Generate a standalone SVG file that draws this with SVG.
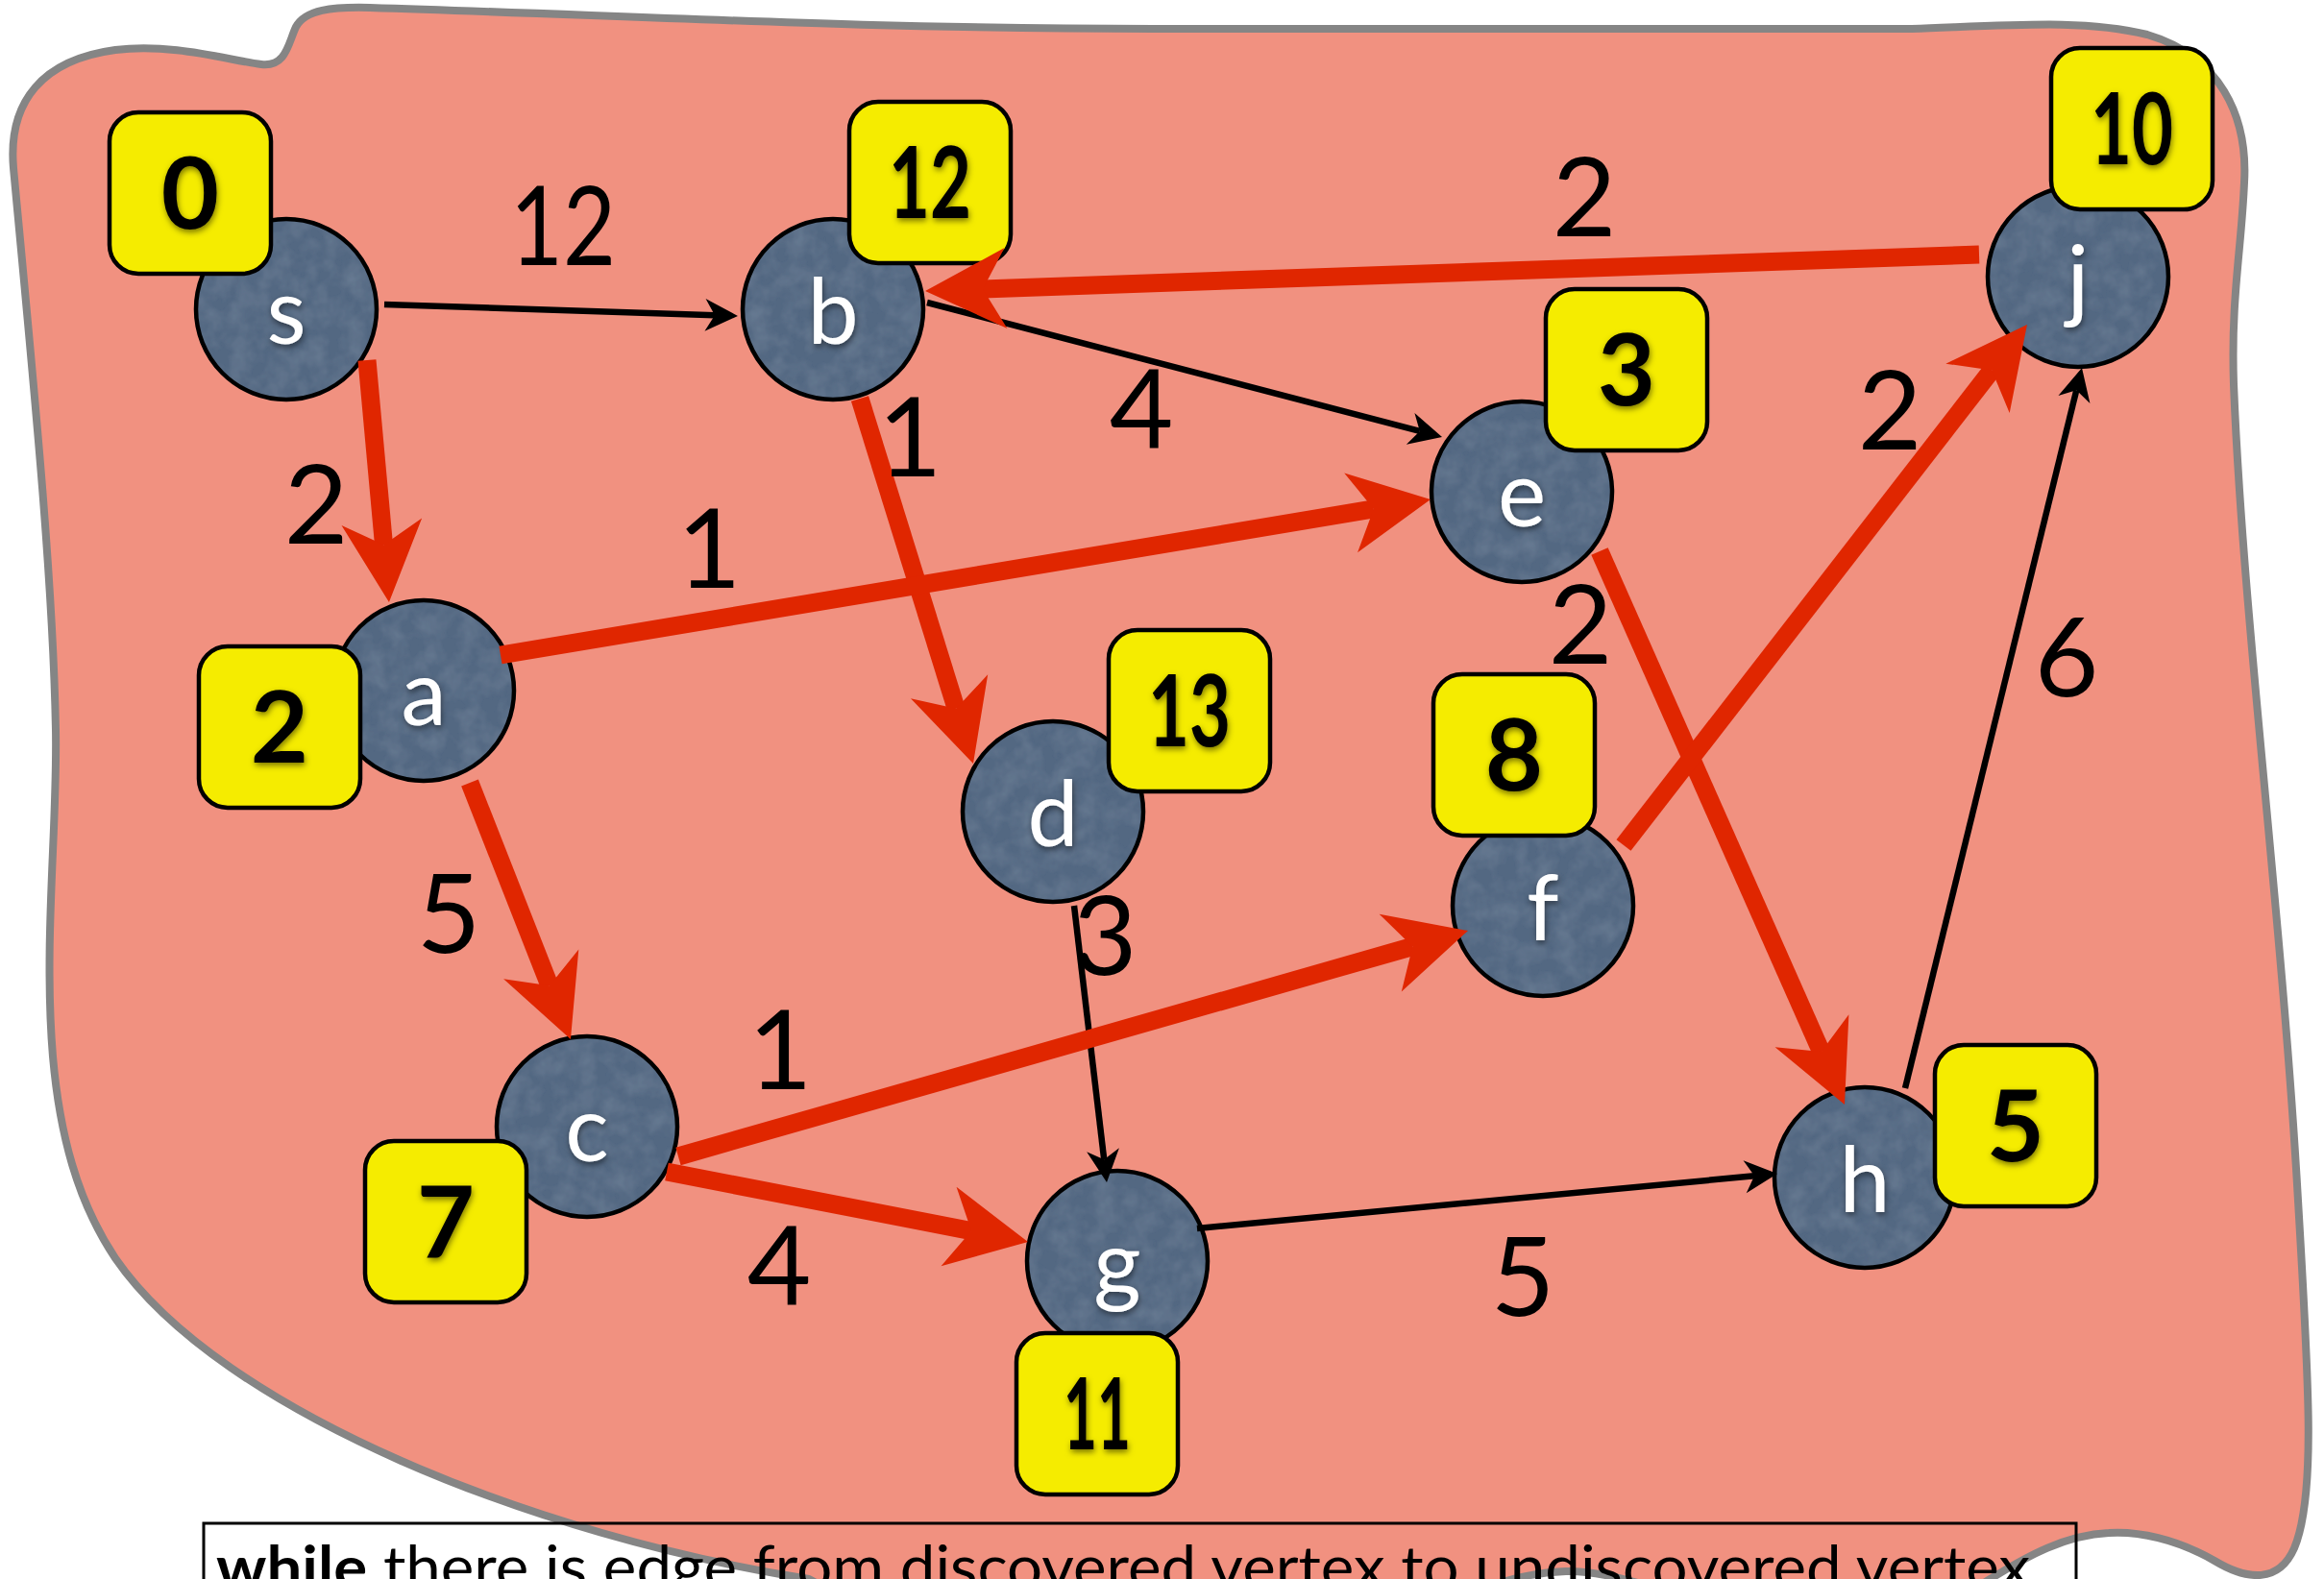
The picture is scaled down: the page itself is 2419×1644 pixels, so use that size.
<svg xmlns="http://www.w3.org/2000/svg" width="2419" height="1644" viewBox="0 0 2419 1644">
  <defs>
    <style>
      .blob { fill: #F19180; stroke: #858585; stroke-width: 8; stroke-linejoin: round; }
      .node .body { fill: #526782; filter: url(#grain); }
      .node .rim { fill: none; stroke: #000; stroke-width: 4.5; }
      .node .lbl { font-family: Lato, "Open Sans", "DejaVu Sans", sans-serif; font-size: 95px; fill: #fff; text-anchor: middle; filter: url(#soft); }
      .tag rect { fill: #F5EC00; stroke: #000; stroke-width: 4.5; }
      .tag text { font-family: Lato, "Open Sans", "DejaVu Sans", sans-serif; font-weight: 700; font-size: 104px; fill: #000; text-anchor: middle; filter: url(#soft); }
      .tree line { stroke: #E02600; stroke-width: 19; stroke-linecap: butt; marker-end: url(#head-red); }
      .plain line { stroke: #000; stroke-width: 6.5; stroke-linecap: butt; marker-end: url(#head-black); }
      .w { font-family: Lato, "Open Sans", "DejaVu Sans", sans-serif; font-size: 115px; fill: #000; text-anchor: middle; }
      .caption rect { fill: none; stroke: #000; stroke-width: 3; }
      .caption text { font-family: Lato, "Open Sans", "DejaVu Sans", sans-serif; font-size: 62px; fill: #000; }
    </style>
    <filter id="soft" x="-30%" y="-30%" width="160%" height="160%">
      <feDropShadow dx="1" dy="3" stdDeviation="3" flood-color="#000" flood-opacity="0.5"/>
    </filter>
    <!-- faint mottled texture for the vertex discs -->
    <filter id="grain">
      <feTurbulence type="fractalNoise" baseFrequency="0.05" numOctaves="3" seed="7" result="noise"/>
      <feColorMatrix in="noise" type="matrix" values="0 0 0 0 0.40  0 0 0 0 0.50  0 0 0 0 0.62  0 0 0 0.25 -0.08" result="tint"/>
      <feComposite in="tint" in2="SourceGraphic" operator="in" result="spots"/>
      <feMerge><feMergeNode in="SourceGraphic"/><feMergeNode in="spots"/></feMerge>
    </filter>
    <!-- notched arrowheads; the line ends at the notch (0,0) -->
    <marker id="head-red" markerUnits="userSpaceOnUse" markerWidth="200" markerHeight="200" refX="0" refY="0" orient="auto" overflow="visible">
      <path d="M60,0 L-24,-42 L0,0 L-24,42 Z" fill="#E02600"/>
    </marker>
    <marker id="head-black" markerUnits="userSpaceOnUse" markerWidth="100" markerHeight="100" refX="0" refY="0" orient="auto" overflow="visible">
      <path d="M24,0 L-10,-17 L0,0 L-10,17 Z" fill="#000"/>
    </marker>
  </defs>

  <rect width="2419" height="1644" fill="#fff"/>

  <!-- discovered region -->
  <path class="blob" d="M14,175 C8,105 45,62 120,52 C180,45 235,62 272,67 C298,70 300,45 308,28 C318,10 345,7 385,8 C650,16 900,30 1200,30 L1990,30 C2100,26 2170,20 2235,36 C2310,58 2340,120 2336,190 C2333,260 2322,310 2325,400 C2335,650 2375,950 2392,1250 C2404,1450 2410,1560 2388,1612 C2372,1648 2340,1646 2305,1625 C2265,1602 2225,1594 2195,1596 C2150,1598 2110,1620 2070,1645 C2030,1670 1980,1690 1900,1690 C1800,1690 1700,1634 1630,1636 C1570,1638 1530,1660 1480,1680 L1000,1700 C930,1690 880,1665 842,1644 C560,1600 230,1470 120,1310 C80,1250 62,1180 55,1100 C45,980 60,860 58,760 C55,600 35,400 14,175 Z"/>

  <!-- vertices with their discovery numbers -->
  <g id="node-s" class="node">
    <circle class="body" cx="298" cy="322" r="94"/><circle class="rim" cx="298" cy="322" r="94"/>
    <text class="lbl" x="298" y="358">s</text>
    <g class="tag"><rect x="114" y="117" width="168" height="168" rx="30"/><text x="198" y="238">0</text></g>
  </g>
  <g id="node-b" class="node">
    <circle class="body" cx="867" cy="322" r="94"/><circle class="rim" cx="867" cy="322" r="94"/>
    <text class="lbl" x="867" y="358">b</text>
    <g class="tag"><rect x="884" y="106" width="168" height="168" rx="30"/><text x="968" y="227" textLength="86" lengthAdjust="spacingAndGlyphs">12</text></g>
  </g>
  <g id="node-j" class="node">
    <circle class="body" cx="2163" cy="288" r="94"/><circle class="rim" cx="2163" cy="288" r="94"/>
    <text class="lbl" x="2163" y="324">j</text>
    <g class="tag"><rect x="2135" y="50" width="168" height="168" rx="30"/><text x="2219" y="171" textLength="86" lengthAdjust="spacingAndGlyphs">10</text></g>
  </g>
  <g id="node-e" class="node">
    <circle class="body" cx="1584" cy="512" r="94"/><circle class="rim" cx="1584" cy="512" r="94"/>
    <text class="lbl" x="1584" y="548">e</text>
    <g class="tag"><rect x="1609" y="301" width="168" height="168" rx="30"/><text x="1693" y="422">3</text></g>
  </g>
  <g id="node-a" class="node">
    <circle class="body" cx="441" cy="719" r="94"/><circle class="rim" cx="441" cy="719" r="94"/>
    <text class="lbl" x="441" y="755">a</text>
    <g class="tag"><rect x="207" y="673" width="168" height="168" rx="30"/><text x="291" y="794">2</text></g>
  </g>
  <g id="node-d" class="node">
    <circle class="body" cx="1096" cy="845" r="94"/><circle class="rim" cx="1096" cy="845" r="94"/>
    <text class="lbl" x="1096" y="881">d</text>
    <g class="tag"><rect x="1154" y="656" width="168" height="168" rx="30"/><text x="1238" y="777" textLength="86" lengthAdjust="spacingAndGlyphs">13</text></g>
  </g>
  <g id="node-f" class="node">
    <circle class="body" cx="1606" cy="943" r="94"/><circle class="rim" cx="1606" cy="943" r="94"/>
    <text class="lbl" x="1606" y="979">f</text>
    <g class="tag"><rect x="1492" y="702" width="168" height="168" rx="30"/><text x="1576" y="823">8</text></g>
  </g>
  <g id="node-c" class="node">
    <circle class="body" cx="611" cy="1173" r="94"/><circle class="rim" cx="611" cy="1173" r="94"/>
    <text class="lbl" x="611" y="1209">c</text>
    <g class="tag"><rect x="380" y="1188" width="168" height="168" rx="30"/><text x="464" y="1309">7</text></g>
  </g>
  <g id="node-g" class="node">
    <circle class="body" cx="1163" cy="1313" r="94"/><circle class="rim" cx="1163" cy="1313" r="94"/>
    <text class="lbl" x="1163" y="1349">g</text>
    <g class="tag"><rect x="1058" y="1388" width="168" height="168" rx="30"/><text x="1142" y="1509" textLength="70" lengthAdjust="spacingAndGlyphs">11</text></g>
  </g>
  <g id="node-h" class="node">
    <circle class="body" cx="1941" cy="1226" r="94"/><circle class="rim" cx="1941" cy="1226" r="94"/>
    <text class="lbl" x="1941" y="1262">h</text>
    <g class="tag"><rect x="2014" y="1088" width="168" height="168" rx="30"/><text x="2098" y="1209">5</text></g>
  </g>

  <!-- edges: black = graph edge, red = search tree edge -->
  <g id="edges">
    <g class="plain">
      <line x1="400" y1="317" x2="744.0" y2="328.2"/>
      <line x1="965" y1="315" x2="1477.8" y2="448.9"/>
      <line x1="1983" y1="1133" x2="2161.3" y2="406.3"/>
      <line x1="1118" y1="943" x2="1149.2" y2="1207.2"/>
      <line x1="1246" y1="1279" x2="1826.1" y2="1224.3"/>
    </g>
    <g class="tree">
      <line x1="382" y1="375" x2="399.5" y2="567.2"/>
      <line x1="895" y1="415" x2="995.2" y2="737.7"/>
      <line x1="2060" y1="265" x2="1023.0" y2="300.9"/>
      <line x1="521" y1="682" x2="1429.8" y2="529.9"/>
      <line x1="1665" y1="574" x2="1895.7" y2="1095.1"/>
      <line x1="1690" y1="880" x2="2073.2" y2="385.4"/>
      <line x1="489" y1="815" x2="572.0" y2="1026.2"/>
      <line x1="706" y1="1204" x2="1470.3" y2="985.5"/>
      <line x1="694" y1="1220" x2="1011.1" y2="1281.6"/>
    </g>
  </g>

  <!-- edge weights -->
  <g id="weights">
    <text class="w" x="586" y="276" textLength="110" lengthAdjust="spacingAndGlyphs">12</text>
    <text class="w" x="329" y="566">2</text>
    <text class="w" x="738" y="612">1</text>
    <text class="w" x="947" y="496">1</text>
    <text class="w" x="1188" y="467">4</text>
    <text class="w" x="1649" y="246">2</text>
    <text class="w" x="1967" y="468">2</text>
    <text class="w" x="1645" y="691">2</text>
    <text class="w" x="2151" y="725">6</text>
    <text class="w" x="467" y="992">5</text>
    <text class="w" x="1150" y="1015">3</text>
    <text class="w" x="812" y="1134">1</text>
    <text class="w" x="811" y="1359">4</text>
    <text class="w" x="1585" y="1370">5</text>
  </g>

  <!-- loop condition -->
  <g id="caption" class="caption">
    <rect x="212" y="1586" width="1949" height="120"/>
    <text x="225" y="1654" textLength="1888" lengthAdjust="spacingAndGlyphs"><tspan font-weight="700">while</tspan> there is edge from discovered vertex to undiscovered vertex</text>
  </g>
</svg>
